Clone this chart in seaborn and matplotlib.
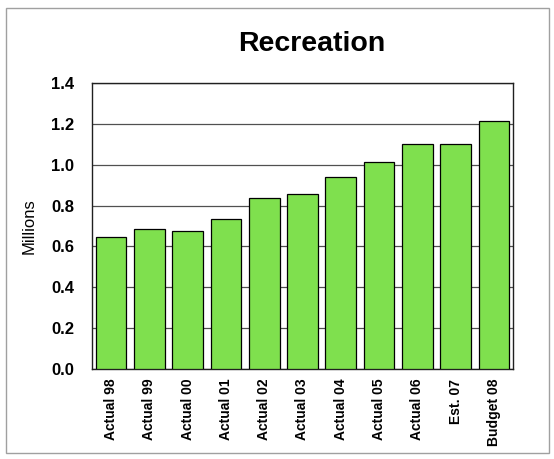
import matplotlib
matplotlib.use("Agg")
import matplotlib.pyplot as plt
import seaborn as sns
import pandas as pd
from matplotlib.patches import Rectangle

categories = ["Actual 98", "Actual 99", "Actual 00", "Actual 01", "Actual 02",
              "Actual 03", "Actual 04", "Actual 05", "Actual 06", "Est. 07", "Budget 08"]
values = [0.644, 0.686, 0.677, 0.735, 0.839, 0.859, 0.941, 1.015, 1.103, 1.103, 1.214]
y_ticks = [0.0, 0.2, 0.4, 0.6, 0.8, 1.0, 1.2, 1.4]

df = pd.DataFrame({"category": categories, "value": values})

sns.set_theme(style="white")
plt.rcParams["font.family"] = ["Liberation Sans", "DejaVu Sans"]
plt.rcParams["text.color"] = "black"
plt.rcParams["axes.labelcolor"] = "black"
plt.rcParams["xtick.color"] = "black"
plt.rcParams["ytick.color"] = "black"

fig = plt.figure(figsize=(5.54, 4.59), dpi=100)
ax = fig.add_axes([0.166, 0.196, 0.760, 0.623])

# outer frame around the whole chart
fig.patches.append(Rectangle((0.011, 0.012), 0.980, 0.970, transform=fig.transFigure,
                             fill=False, edgecolor="#a0a0a0", linewidth=1.0))

sns.barplot(data=df, x="category", y="value", ax=ax, color="#7fe04e",
            edgecolor="black", linewidth=0.9, width=0.8, saturation=1, zorder=3)

ax.set_ylim(0, 1.4)
ax.set_xlim(-0.5, len(categories) - 0.5)
ax.set_yticks(y_ticks)
ax.set_yticklabels([f"{t:.1f}" for t in y_ticks], fontsize=12, fontweight="bold")
ax.yaxis.grid(True, color="#505050", linewidth=0.9, zorder=0)
ax.set_axisbelow(True)
ax.tick_params(axis="y", length=0, pad=13)
ax.tick_params(axis="x", length=0, pad=7)
ax.set_xticks(range(len(categories)))
ax.set_xticklabels(categories, rotation=90, fontsize=10, fontweight="bold", va="top")

for side in ["left", "bottom", "top", "right"]:
    ax.spines[side].set_visible(True)
    ax.spines[side].set_color("#202020")
    ax.spines[side].set_linewidth(1.0)

ax.set_xlabel("")
ax.set_ylabel("Millions", fontsize=12, labelpad=10)

fig.text(0.563, 0.905, "Recreation", ha="center", va="center",
         fontsize=20.5, fontweight="bold")

fig.savefig("out.png", dpi=100)
